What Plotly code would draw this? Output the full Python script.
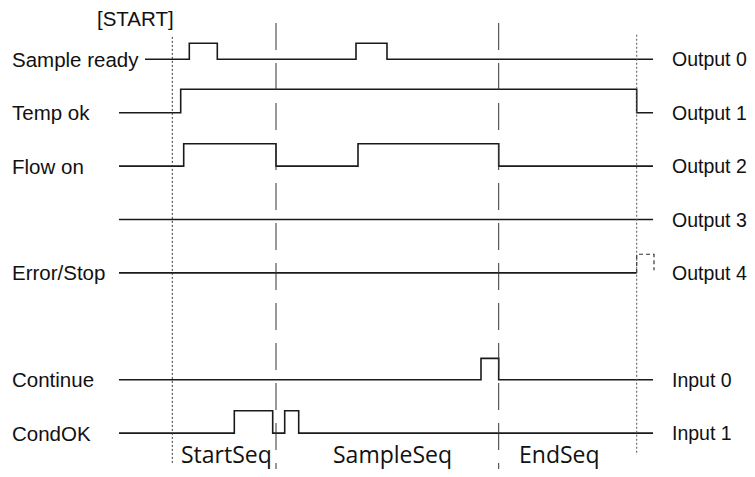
import plotly.graph_objects as go

# ---------------- data ----------------
left_labels = ["Sample ready", "Temp ok", "Flow on", "", "Error/Stop", "Continue", "CondOK"]
right_labels = ["Output 0", "Output 1", "Output 2", "Output 3", "Output 4", "Input 0", "Input 1"]
rows = [0, 1, 2, 3, 4, 6, 7]
start_times = [145, 119, 119, 119, 119, 119, 119]
end_times = [653, 653, 653, 653, 636.7, 653, 653]
edges = [
    [189.3, 217.3, 356, 387],
    [180.7, 636.7],
    [183.7, 276, 358, 498.7],
    [],
    [],
    [481, 498.7],
    [234.3, 272.7, 284.7, 298.7],
]
amplitudes = [0.30, 0.44, 0.42, 0.42, 0.35, 0.40, 0.42]
error_pending = [636.7, 654]          # dashed (pending) pulse of Error/Stop

start_marker = [172.3]                # dotted: [START]
end_marker = [636.7]                  # dotted: end
phase_bounds = [276, 498.7]           # dashed phase boundaries
phase_names = ["StartSeq", "SampleSeq", "EndSeq"]
phase_label_x = [226, 392, 559]

# ---------------- figure ----------------
fig = go.Figure()
SIG = dict(color="#1a1a1a", width=1.6)

for i in range(len(rows)):
    r = rows[i]
    a = amplitudes[i]
    xs = [start_times[i]] + edges[i] + [end_times[i]]
    lv = [0]
    for _ in edges[i]:
        lv.append(1 - lv[-1])
    lv.append(lv[-1])
    ys = [r - a * l for l in lv]
    fig.add_trace(go.Scatter(x=xs, y=ys, mode="lines", line=SIG, line_shape="hv",
                             hoverinfo="skip", showlegend=False))

# pending error pulse (dashed)
r_err, a_err = rows[4], amplitudes[4]
fig.add_trace(go.Scatter(
    x=[error_pending[0], error_pending[0], error_pending[1], error_pending[1]],
    y=[r_err, r_err - a_err, r_err - a_err, r_err - 0.05],
    mode="lines", line=dict(color="#333", width=1.2, dash="4px,3px"),
    hoverinfo="skip", showlegend=False))

# vertical markers
for t in start_marker:
    fig.add_trace(go.Scatter(x=[t, t], y=[-0.42, 7.56], mode="lines",
                             line=dict(color="#333", width=1, dash="2px,2px"),
                             hoverinfo="skip", showlegend=False))
for t in end_marker:
    fig.add_trace(go.Scatter(x=[t, t], y=[-0.46, 7.41], mode="lines",
                             line=dict(color="#555", width=1, dash="2px,2px"),
                             hoverinfo="skip", showlegend=False))
for t in phase_bounds:
    fig.add_trace(go.Scatter(x=[t, t], y=[-0.68, 7.9], mode="lines",
                             line=dict(color="#333", width=1, dash="27px,13px"),
                             hoverinfo="skip", showlegend=False))

LF = dict(family="Liberation Sans, Arial, sans-serif", size=20.5, color="#111")
RF = dict(family="Liberation Sans, Arial, sans-serif", size=19.5, color="#111")
for i in range(len(rows)):
    if left_labels[i]:
        fig.add_annotation(x=10, y=rows[i], text=left_labels[i], showarrow=False,
                           xanchor="left", yanchor="middle", font=LF)
    fig.add_annotation(x=670, y=rows[i], text=right_labels[i], showarrow=False,
                       xanchor="left", yanchor="middle", font=RF)

fig.add_annotation(x=135, y=-0.765, text="[START]", showarrow=False,
                   xanchor="center", yanchor="middle", font=LF)

PF = dict(family="Open Sans, sans-serif", size=23, color="#111")
for nm, px in zip(phase_names, phase_label_x):
    fig.add_annotation(x=px, y=7.39, text=nm, showarrow=False,
                       xanchor="center", yanchor="middle", font=PF)

# the page body has an 8px margin: the figure covers window pixels 8..747 / 8..469
fig.update_layout(
    width=739, height=461,
    margin=dict(l=0, r=0, t=0, b=0),
    paper_bgcolor="white", plot_bgcolor="white",
    xaxis=dict(range=[8, 747], visible=False, fixedrange=True),
    yaxis=dict(range=[7.672, -0.961], visible=False, fixedrange=True),
    showlegend=False,
)

fig.write_html("out.html", config={"displayModeBar": False})
